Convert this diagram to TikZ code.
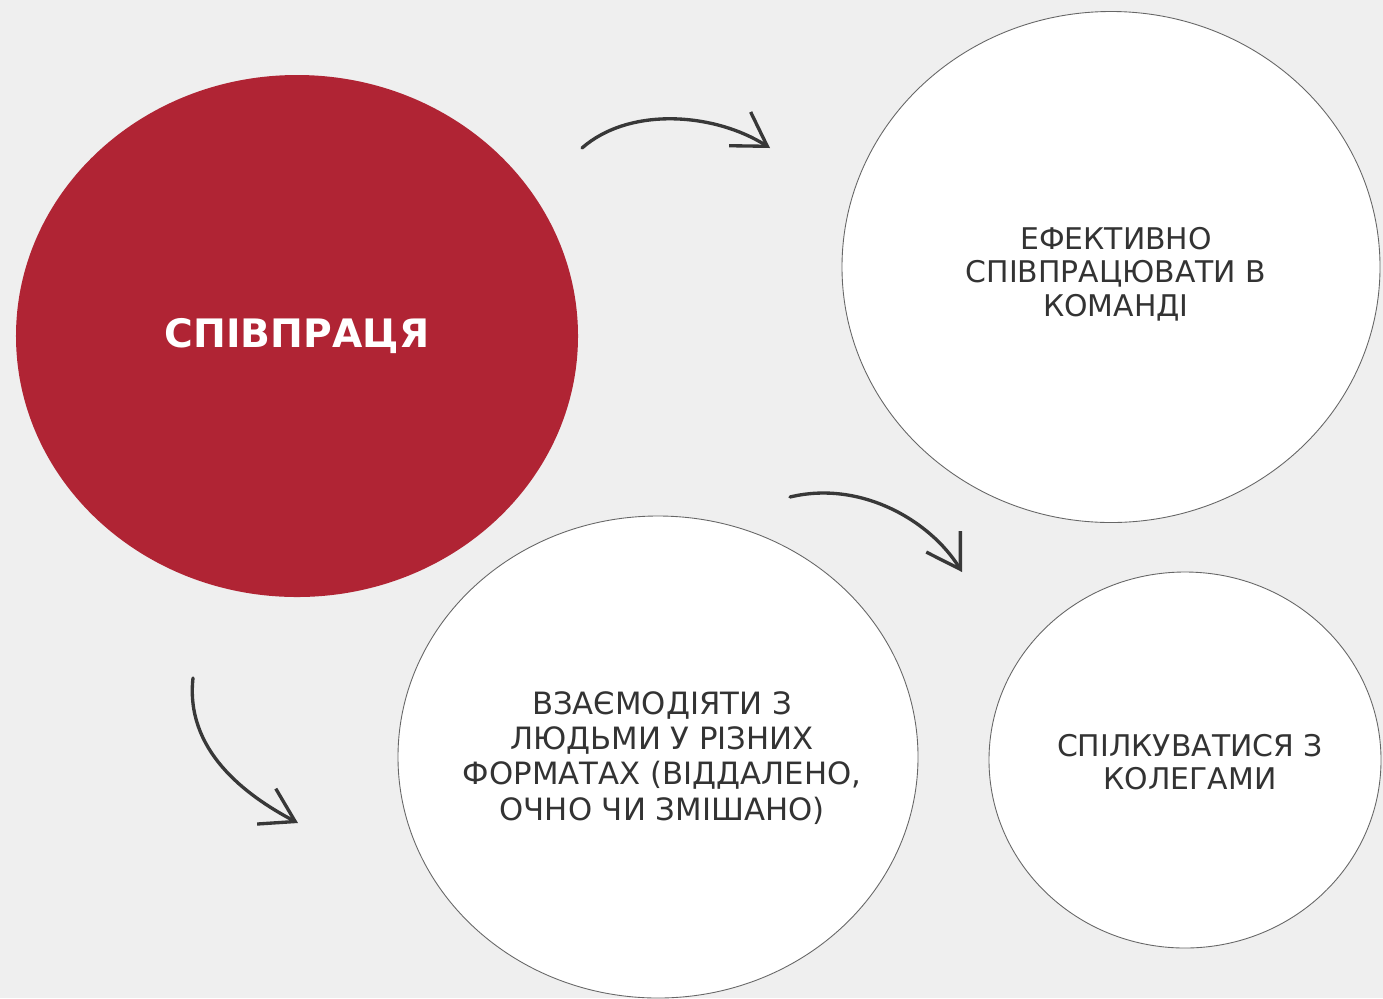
\documentclass[tikz,border=0pt]{standalone}
\usepackage{fontspec}
\setmainfont{DejaVu Sans}
\usetikzlibrary{arrows.meta}
\usetikzlibrary{shapes.geometric}

\definecolor{bgGray}{HTML}{EFEFEF}
\definecolor{redFill}{RGB}{176,36,52}
\definecolor{inkGray}{HTML}{333333}

\tikzset{
  bubble/.style={ellipse, draw=black!60, line width=0.5pt, fill=white, inner sep=0pt},
  mainbubble/.style={ellipse, fill=redFill, inner sep=0pt},
  bubbletext/.style={text=inkGray, align=center, inner sep=0pt, font=\fontsize{17}{19}\selectfont},
  maintext/.style={text=white, inner sep=0pt, font=\fontsize{22.3}{26}\selectfont\bfseries},
  sketch/.style={draw=black!78, line width=1.9pt, line cap=round,
    -{Straight Barb[length=6.5mm, width=8mm]}}
}

\begin{document}
\begin{tikzpicture}[x=0.2mm, y=-0.2mm]
    \fill[bgGray] (0,0) rectangle (1383,998);
    \useasboundingbox (0,0) rectangle (1383,998);

    % circles
    \node[mainbubble, minimum width=112.4mm, minimum height=104.4mm] (collab) at (297,336) {};
    \node[bubble, minimum width=107.6mm, minimum height=102.2mm] (team) at (1111,267) {};
    \node[bubble, minimum width=104mm, minimum height=96.4mm] (formats) at (658,757) {};
    \node[bubble, minimum width=78.4mm, minimum height=75.2mm] (peers) at (1185,760) {};

    % texts
    \node[maintext] (collabtxt) at (297,336) {СПІВПРАЦЯ};
    \node[bubbletext] (teamtxt) at (1116,274) {ЕФЕКТИВНО\\СПІВПРАЦЮВАТИ В\\КОМАНДІ};
    \node[bubbletext, font=\fontsize{17.5}{20}\selectfont] (formatstxt) at (662,758) {ВЗАЄМОДІЯТИ З\\ЛЮДЬМИ У РІЗНИХ\\ФОРМАТАХ (ВІДДАЛЕНО,\\ОЧНО ЧИ ЗМІШАНО)};
    \node[bubbletext] (peerstxt) at (1190,762) {СПІЛКУВАТИСЯ З\\КОЛЕГАМИ};

    % arrows
    \coordinate (a1s) at (582,148);
    \coordinate (a1e) at (770,148);
    \coordinate (a2s) at (790,497);
    \coordinate (a2e) at (962,572);
    \coordinate (a3s) at (193,678);
    \coordinate (a3e) at (298,823);

    \draw[sketch] (a1s) .. controls (630,106) and (715,113) .. (a1e);
    \draw[sketch] (a2s) .. controls (860,480) and (930,520) .. (a2e);
    \draw[sketch] (a3s) .. controls (185,750) and (245,795) .. (a3e);
\end{tikzpicture}
\end{document}
